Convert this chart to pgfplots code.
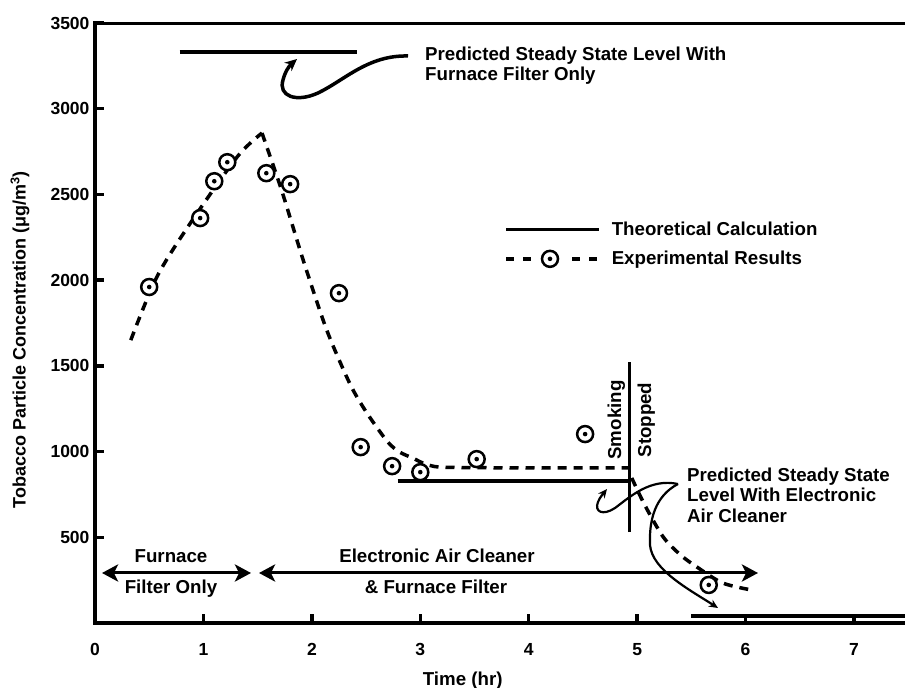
\documentclass[border=0pt]{standalone}
\usepackage{fontspec}
\setmainfont{Liberation Sans}
\usepackage{pgfplots}
\pgfplotsset{compat=1.18}
\usetikzlibrary{arrows.meta}

\pgfdeclareplotmark{odot}{%
  \pgfpathcircle{\pgfpointorigin}{\pgfplotmarksize}%
  \pgfsetfillcolor{white}%
  \pgfusepathqfillstroke
  \pgfpathcircle{\pgfpointorigin}{2.3pt}%
  \pgfsetfillcolor{black}%
  \pgfusepathqfill}

\newcommand\bigfont{\bfseries\fontsize{18.7}{20}\selectfont}
\newcommand\tickfont{\bfseries\fontsize{17.5}{20}\selectfont}

\begin{document}
\begin{tikzpicture}
\begin{axis}[
  name=ax,
  at={(0,0)}, anchor=south west,
  scale only axis, width=810pt, height=600pt,
  xmin=0, xmax=7.47, ymin=0, ymax=3500,
  axis x line*=bottom, axis y line*=left,
  axis line style={line width=4pt, line cap=rect},
  tick align=inside,
  xtick={0,...,7}, ytick={500,1000,...,3500},
  major tick length=9pt,
  tick style={line width=3.5pt, black},
  ticklabel style={font=\tickfont},
  /pgf/number format/assume math mode=true,
  /pgf/number format/1000 sep={},
  xticklabel style={yshift=-17pt},
  yticklabel style={xshift=-2pt},
  xlabel={Time (hr)},
  xlabel style={font=\bigfont, at={(axis description cs:0.454,0)}, anchor=base, yshift=-62pt},
  ylabel={Tobacco Particle Concentration (μg/m\textsuperscript{3})},
  ylabel style={font=\bfseries\fontsize{18}{20}\selectfont, at={(axis description cs:-0.0926,0.4717)}, anchor=center},
  legend style={draw=none, fill=none, at={(axis description cs:0.505,0.669)}, anchor=north west,
    inner sep=0pt, column sep=11pt, row sep=14pt,
    nodes={inner sep=0pt, font=\bigfont}},
  legend cell align=left,
  clip=true,
]
% legend entries
\addlegendimage{legend image code/.code={\draw[line width=3.5pt] (0pt,0pt) -- (93pt,0pt);}}
\addlegendentry{Theoretical Calculation}
\addlegendimage{legend image code/.code={%
  \draw[line width=3.5pt, dash pattern=on 8pt off 9pt] (0pt,0pt) -- (26pt,0pt);
  \draw[line width=3.5pt, dash pattern=on 8pt off 9pt] (66pt,0pt) -- (92pt,0pt);
  \path plot[mark=odot, mark size=8pt, mark options={draw=black, line width=2.5pt}] coordinates {(44pt,0pt)};}}
\addlegendentry{Experimental Results}

% theoretical calculations
\addplot[forget plot, line width=3.5pt] coordinates {(0.78,3330) (2.42,3330)};
\addplot[forget plot, line width=3.5pt] coordinates {(2.79,828) (4.93,828)};
\addplot[forget plot, line width=3.5pt] coordinates {(5.50,40) (7.47,40)};
% smoking stopped
\addplot[forget plot, line width=3pt] coordinates {(4.93,530) (4.93,1520)};

% experimental fit curves
\addplot[forget plot, line width=3.5pt, dash pattern=on 9pt off 7pt, smooth] coordinates {
 (0.33,1650) (0.57,2018) (0.88,2333) (1.31,2718) (1.54,2858)};
\addplot[forget plot, line width=3.5pt, dash pattern=on 9pt off 7pt, smooth] coordinates {
 (1.54,2858) (1.72,2526) (1.92,2117) (2.12,1738) (2.26,1522) (2.38,1359) (2.52,1213)
 (2.70,1056) (2.81,997) (2.93,962) (3.07,922) (3.25,908) (4.0,905) (4.93,905)};
\addplot[forget plot, line width=3.5pt, dash pattern=on 9pt off 7pt, smooth] coordinates {
 (4.95,846) (5.07,688) (5.24,502) (5.40,397) (5.55,327) (5.79,233) (6.06,192)};

% experimental points
\addplot[forget plot, only marks, mark=odot, mark size=8pt, mark options={draw=black, line width=2.5pt}] coordinates {
 (0.50,1960) (0.97,2362) (1.10,2577) (1.22,2688) (1.58,2624) (1.80,2560) (2.25,1924)
 (2.45,1026) (2.74,915) (3.00,880) (3.52,956) (4.52,1102) (5.66,222)};

% top frame line
\draw[line width=4pt, line cap=rect] (rel axis cs:0,1) -- (rel axis cs:1,1);
\end{axis}

\pgfresetboundingbox
\begin{scope}[shift={(ax.south west)}, xshift=-95pt, yshift=623pt, x=1pt, y=-1pt]
\path[use as bounding box] (0,0) rectangle (905,688);
% period arrows
\draw[line width=3pt, {Stealth[length=16pt,width=17pt,inset=4pt]}-{Stealth[length=16pt,width=17pt,inset=4pt]}] (102,573) -- (251,573);
\draw[line width=3pt, {Stealth[length=16pt,width=17pt,inset=4pt]}-{Stealth[length=16pt,width=17pt,inset=4pt]}] (259,573) -- (758,573);
\node[font=\bigfont, inner sep=0pt, anchor=base] at (171,563) {Furnace};
\node[font=\bigfont, inner sep=0pt, anchor=base] at (171,594) {Filter Only};
\node[font=\bigfont, inner sep=0pt, anchor=base] at (437,563) {Electronic Air Cleaner};
\node[font=\bigfont, inner sep=0pt, anchor=base] at (436,594) {\& Furnace Filter};
% smoking stopped
\node[font=\bigfont, inner sep=0pt, rotate=90, anchor=base] at (621,420) {Smoking};
\node[font=\bigfont, inner sep=0pt, rotate=90, anchor=base] at (651,420) {Stopped};
% annotations
\node[font=\bigfont, inner sep=0pt, anchor=base west] at (425,61) {Predicted Steady State Level With};
\node[font=\bigfont, inner sep=0pt, anchor=base west] at (425,81) {Furnace Filter Only};
\node[font=\bigfont, inner sep=0pt, anchor=base west] at (687,482) {Predicted Steady State};
\node[font=\bigfont, inner sep=0pt, anchor=base west] at (687,502) {Level With Electronic};
\node[font=\bigfont, inner sep=0pt, anchor=base west] at (687,523) {Air Cleaner};
\draw[line width=3.5pt, -{Stealth[length=12pt,width=11pt]}] (408,56) .. controls (368,55) and (345,80) .. (318,93)
   .. controls (296,103) and (278,96) .. (283,80) .. controls (285,72) and (289,66) .. (297,59);
\draw[line width=2.2pt, -{Stealth[length=9pt,width=8pt]}] (678,484) .. controls (650,478) and (630,497) .. (615,508)
   .. controls (603,516) and (594,512) .. (598,502) .. controls (600,497) and (603,494) .. (607,489);
\draw[line width=2.2pt, -{Stealth[length=9pt,width=8pt]}] (678,484) .. controls (655,496) and (649,520) .. (650,545)
   .. controls (652,570) and (690,590) .. (718,608);
\end{scope}
\end{tikzpicture}
\end{document}
